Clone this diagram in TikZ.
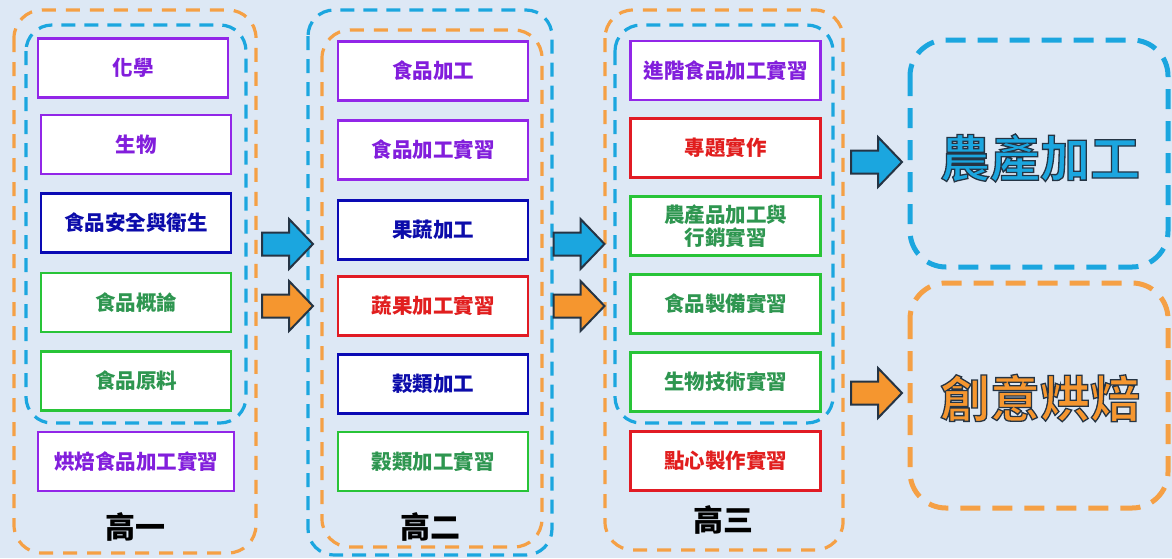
\documentclass[tikz,border=0pt]{standalone}
\usepackage{fontspec}
\newfontfamily\cjk{Noto Sans CJK TC}[BoldFont={* Black}]
\newfontfamily\cjkbold{Noto Sans CJK TC Bold}
\definecolor{bgc}{RGB}{221,232,245}
\definecolor{purpB}{RGB}{146,38,232}
\definecolor{purpT}{RGB}{130,30,220}
\definecolor{blueB}{RGB}{10,10,180}
\definecolor{blueT}{RGB}{12,12,170}
\definecolor{redB}{RGB}{225,27,36}
\definecolor{redT}{RGB}{225,30,30}
\definecolor{greenB}{RGB}{40,196,56}
\definecolor{greenT}{RGB}{46,150,80}
\definecolor{dblue}{RGB}{27,166,223}
\definecolor{dorange}{RGB}{245,160,69}
\definecolor{arrblue}{RGB}{27,166,223}
\definecolor{arrorange}{RGB}{245,150,47}
\definecolor{arrline}{RGB}{37,52,68}
\newcommand\outlined[1]{\special{pdf:code 2 Tr 1.3 w 0.145 0.204 0.267 RG}#1\special{pdf:code 0 Tr}}
\tikzset{
  box/.style={draw, line width=2.6pt, fill=white, minimum width=190pt, minimum height=59pt,
    inner sep=0pt, align=center, font=\cjk\bfseries\fontsize{20.5}{23}\selectfont},
  pbox/.style={box, draw=purpB, text=purpT},
  bbox/.style={box, draw=blueB, text=blueT},
  rbox/.style={box, draw=redB, text=redT},
  gbox/.style={box, draw=greenB, text=greenT},
  grpO/.style={draw=dorange, line width=3.2pt, dash pattern=on 14pt off 10pt, rounded corners=28pt},
  grpB/.style={draw=dblue, line width=3.2pt, dash pattern=on 14pt off 9pt, rounded corners=26pt},
  bigO/.style={draw=dorange, line width=5pt, dash pattern=on 20pt off 12pt, rounded corners=36pt},
  bigB/.style={draw=dblue, line width=5pt, dash pattern=on 20pt off 12pt, rounded corners=36pt},
  year/.style={font=\cjk\bfseries\fontsize{30}{32}\selectfont, text=black, inner sep=0pt},
  big/.style={font=\cjkbold\fontsize{50}{52}\selectfont, inner sep=0pt},
  pics/blockarrow/.style={code={
    \draw[line width=2pt, draw=arrline, fill=#1, line join=miter]
      (-25.5,-11.5) -- (1.5,-11.5) -- (1.5,-25) -- (25.5,0) -- (1.5,25) -- (1.5,11.5) -- (-25.5,11.5) -- cycle;}}
}
\begin{document}
\begin{tikzpicture}[x=1pt,y=-1pt]
\fill[bgc] (0,0) rectangle (1172,558);
\useasboundingbox (0,0) rectangle (1172,558);

% group frames
\draw[grpO] (14,10) rectangle (256,553);
\draw[grpB] (26,25) rectangle (246,423);
\draw[grpB] (308,10) rectangle (552,555);
\draw[grpO] (322,30) rectangle (542,547);
\draw[grpO] (605,10) rectangle (843,550);
\draw[grpB] (615,25) rectangle (833,423);
\draw[bigB] (910,40) rectangle (1168,267);
\draw[bigO] (910,283) rectangle (1168,508);

% column 1
\node[pbox] (a1) at (133,68) {化學};
\node[pbox] (a2) at (136,144.5) {生物};
\node[bbox] (a3) at (136,223) {食品安全與衛生};
\node[gbox] (a4) at (136,302.5) {食品概論};
\node[gbox] (a5) at (136,381) {食品原料};
\node[pbox, minimum width=196pt] (a6) at (136,461.5) {烘焙食品加工實習};
\node[year] (y1) at (135,527) {高一};

% column 2
\node[pbox] (b1) at (433,71) {食品加工};
\node[pbox] (b2) at (433,150) {食品加工實習};
\node[bbox] (b3) at (433,230) {果蔬加工};
\node[rbox] (b4) at (433,306) {蔬果加工實習};
\node[bbox] (b5) at (433,384) {穀類加工};
\node[gbox] (b6) at (433,461.5) {穀類加工實習};
\node[year] (y2) at (430,527) {高二};

% column 3
\node[pbox] (c1) at (725.5,70.5) {進階食品加工實習};
\node[rbox] (c2) at (725.5,148) {專題實作};
\node[gbox] (c3) at (725.5,226) {農產品加工與\\行銷實習};
\node[gbox] (c4) at (725.5,304) {食品製備實習};
\node[gbox] (c5) at (725.5,382) {生物技術實習};
\node[rbox] (c6) at (725.5,461) {點心製作實習};
\node[year] (y3) at (723,520) {高三};

% outcomes
\node[big, text=arrblue] (o1) at (1040,158) {\outlined{農產加工}};
\node[big, text=arrorange] (o2) at (1040,398) {\outlined{創意烘焙}};

% block arrows
\pic at (287.5,244) {blockarrow=arrblue};
\pic at (287.5,306) {blockarrow=arrorange};
\pic at (579,244) {blockarrow=arrblue};
\pic at (579,306) {blockarrow=arrorange};
\pic at (876.5,162) {blockarrow=arrblue};
\pic at (876.5,393) {blockarrow=arrorange};
\end{tikzpicture}
\end{document}
